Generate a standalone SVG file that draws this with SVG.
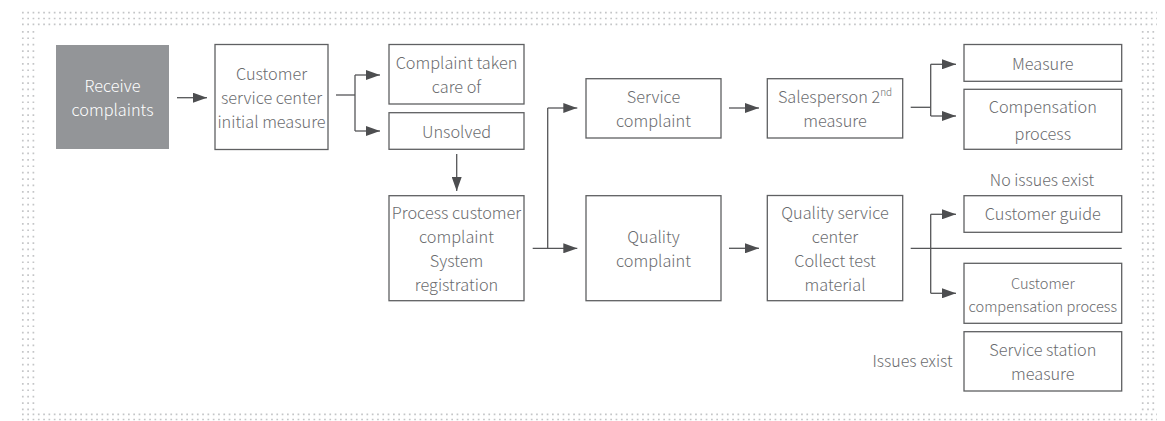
<svg xmlns="http://www.w3.org/2000/svg" width="1165" height="421" viewBox="0 0 1165 421">
<style>
.dh{stroke:#c4c5c7;stroke-width:1.7;stroke-dasharray:1.7 3.6;fill:none}
.dv{stroke:#c4c5c7;stroke-width:1.7;stroke-dasharray:1.7 4.7;fill:none}
.box{fill:#fff;stroke:#5f6062;stroke-width:1.3}
.dark{fill:#939598;stroke:none}
.t{font-family:"Noto Sans CJK KR","Source Sans Pro","Noto Sans",sans-serif;font-weight:300;font-size:16.3px;fill:#6a6b6e;text-anchor:middle}
.w{fill:#ffffff}
.s{font-size:14.6px}
.l{font-size:16px}
.ln{stroke:#555658;stroke-width:1.3;fill:none}
</style>
<defs>
<marker id="ah" markerUnits="userSpaceOnUse" markerWidth="14" markerHeight="10" refX="14" refY="5" orient="auto">
<path d="M0,0 L14,5 L0,10 z" fill="#4d4e50"/>
</marker>
</defs>
<g id="frame">
<line class="dh" x1="22" y1="12.7" x2="1157" y2="12.7"/>
<line class="dh" x1="22" y1="18.5" x2="1157" y2="18.5"/>
<line class="dh" x1="22" y1="24.3" x2="1157" y2="24.3"/>
<line class="dv" x1="22.8" y1="31" x2="22.8" y2="412"/>
<line class="dv" x1="28.1" y1="31" x2="28.1" y2="412"/>
<line class="dv" x1="33.4" y1="31" x2="33.4" y2="412"/>
<line class="dv" x1="1142.7" y1="31" x2="1142.7" y2="412"/>
<line class="dv" x1="1148" y1="31" x2="1148" y2="412"/>
<line class="dv" x1="1153.3" y1="31" x2="1153.3" y2="412"/>
<line class="dh" x1="22" y1="414.3" x2="1157" y2="414.3"/>
<line class="dh" x1="22" y1="419.5" x2="1157" y2="419.5"/>
</g>
<g id="connectors">
<line class="ln" x1="177" y1="97.7" x2="207" y2="97.7" marker-end="url(#ah)"/>
<polyline class="ln" points="336,95 355,95"/>
<polyline class="ln" points="355,75 355,131"/>
<line class="ln" x1="355" y1="75" x2="380" y2="75" marker-end="url(#ah)"/>
<line class="ln" x1="355" y1="131" x2="380" y2="131" marker-end="url(#ah)"/>
<line class="ln" x1="456.7" y1="154" x2="456.7" y2="191" marker-end="url(#ah)"/>
<line class="ln" x1="532.7" y1="248.3" x2="577.3" y2="248.3" marker-end="url(#ah)"/>
<polyline class="ln" points="547.7,248.3 547.7,108"/>
<line class="ln" x1="547.7" y1="108" x2="577.3" y2="108" marker-end="url(#ah)"/>
<line class="ln" x1="729" y1="108" x2="759" y2="108" marker-end="url(#ah)"/>
<line class="ln" x1="729" y1="248.3" x2="759" y2="248.3" marker-end="url(#ah)"/>
<polyline class="ln" points="910.7,107.3 930.7,107.3"/>
<polyline class="ln" points="930.7,64.3 930.7,116"/>
<line class="ln" x1="930.7" y1="64.3" x2="956" y2="64.3" marker-end="url(#ah)"/>
<line class="ln" x1="930.7" y1="116" x2="956" y2="116" marker-end="url(#ah)"/>
<line class="ln" x1="910.7" y1="248.3" x2="1121.7" y2="248.3"/>
<polyline class="ln" points="930.7,214.3 930.7,293.3"/>
<line class="ln" x1="930.7" y1="214.3" x2="956" y2="214.3" marker-end="url(#ah)"/>
<line class="ln" x1="930.7" y1="293.3" x2="956" y2="293.3" marker-end="url(#ah)"/>
</g>
<g id="receive">
<rect class="dark" x="56" y="45" width="113" height="104"/>
<text class="t w" x="112.5" y="92">Receive</text>
<text class="t w" x="112.5" y="116">complaints</text>
</g>
<g id="cs-initial">
<rect class="box" x="215" y="44.5" width="113" height="105"/>
<text class="t" x="271.5" y="80">Customer</text>
<text class="t" x="271.5" y="104">service center</text>
<text class="t" x="271.5" y="128">initial measure</text>
</g>
<g id="taken-care">
<rect class="box" x="389" y="44.5" width="135" height="59.5"/>
<text class="t" x="456.5" y="69">Complaint taken</text>
<text class="t" x="456.5" y="93">care of</text>
</g>
<g id="unsolved">
<rect class="box" x="389" y="112.7" width="135" height="36.6"/>
<text class="t" x="456.5" y="137.5">Unsolved</text>
</g>
<g id="process-register">
<rect class="box" x="389" y="195.7" width="135" height="105"/>
<text class="t" x="456.5" y="219">Process customer</text>
<text class="t" x="456.5" y="243">complaint</text>
<text class="t" x="456.5" y="267">System</text>
<text class="t" x="456.5" y="291">registration</text>
</g>
<g id="service-complaint">
<rect class="box" x="586" y="78.7" width="135" height="59.3"/>
<text class="t" x="653.5" y="103">Service</text>
<text class="t" x="653.5" y="127">complaint</text>
</g>
<g id="quality-complaint">
<rect class="box" x="586" y="195.7" width="135" height="105"/>
<text class="t" x="653.5" y="243">Quality</text>
<text class="t" x="653.5" y="267">complaint</text>
</g>
<g id="salesperson">
<rect class="box" x="767.3" y="78.7" width="135.4" height="59.3"/>
<text class="t" x="835" y="103">Salesperson 2<tspan font-size="10" dy="-7">nd</tspan></text>
<text class="t" x="835" y="127">measure</text>
</g>
<g id="qsc">
<rect class="box" x="767.3" y="195.5" width="135.4" height="105.2"/>
<text class="t" x="835" y="219">Quality service</text>
<text class="t" x="835" y="243">center</text>
<text class="t" x="835" y="267">Collect test</text>
<text class="t" x="835" y="291">material</text>
</g>
<g id="measure">
<rect class="box" x="964" y="44.5" width="157.7" height="36.8"/>
<text class="t" x="1042.8" y="70">Measure</text>
</g>
<g id="compensation">
<rect class="box" x="964" y="89.3" width="157.7" height="60"/>
<text class="t" x="1042.8" y="113">Compensation</text>
<text class="t" x="1042.8" y="140">process</text>
</g>
<text class="t l" x="1042" y="185.5">No issues exist</text>
<g id="customer-guide">
<rect class="box" x="964" y="195.7" width="157.7" height="36.6"/>
<text class="t" x="1042.8" y="220">Customer guide</text>
</g>
<g id="customer-compensation">
<rect class="box" x="964" y="263.3" width="157.7" height="60"/>
<text class="t s" x="1042.8" y="288.5">Customer</text>
<text class="t s" x="1042.8" y="312">compensation process</text>
</g>
<g id="service-station">
<rect class="box" x="964" y="331.7" width="157.7" height="59.3"/>
<text class="t" x="1042.8" y="356">Service station</text>
<text class="t" x="1042.8" y="380">measure</text>
</g>
<text class="t l" x="912.5" y="367">Issues exist</text>
</svg>
